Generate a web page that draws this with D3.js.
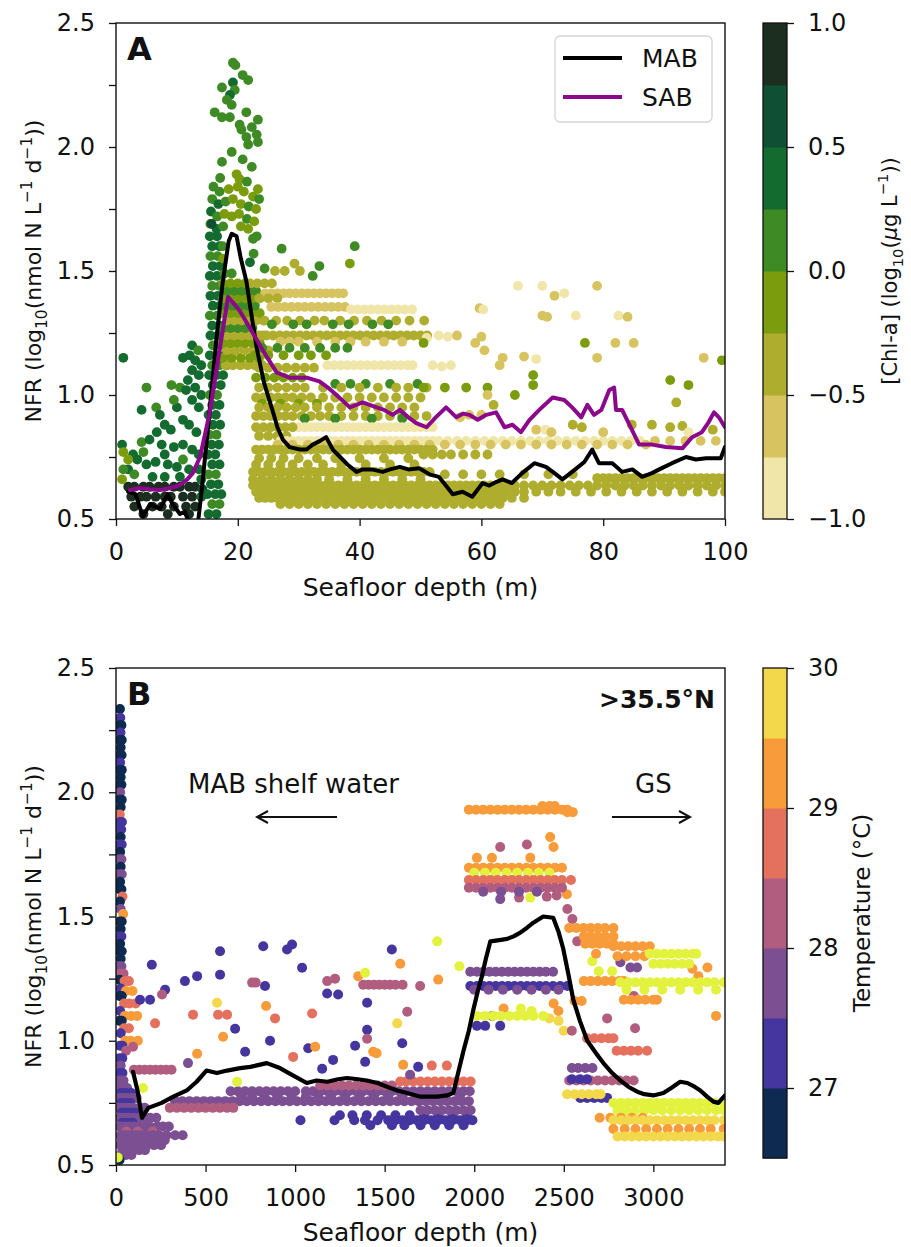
<!DOCTYPE html>
<html>
<head>
<meta charset="utf-8">
<script src="https://cdn.jsdelivr.net/npm/d3@7"></script>
<style>
  body { margin: 0; background: #fff; }
  svg text { font-family: "DejaVu Sans", sans-serif; fill: #111; }
</style>
</head>
<body>
<svg id="fig" width="911" height="1247"></svg>
<script>
// ---------- ticks ----------
const depthTicksA = [0, 20, 40, 60, 80, 100];
const depthTicksB = [0, 500, 1000, 1500, 2000, 2500, 3000];
const nfrTicks = [0.5, 0.75, 1.0, 1.25, 1.5, 1.75, 2.0, 2.25, 2.5];
const chlTicks = [-1, -0.5, 0, 0.5, 1];
const tempTicks = [27, 28, 29, 30];

// ---------- colour bins ----------
const chlBounds = [-1, -0.75, -0.5, -0.25, 0, 0.25, 0.5, 0.75, 1];
const chlColors = ['#f1e6a9', '#d7c461', '#afad2d', '#7b9c0c', '#3e8a24', '#136b30', '#0f4f34', '#1b2e1f'];
const tempBounds = [26.5, 27, 27.5, 28, 28.5, 29, 29.5, 30];
const tempColors = ['#0e2a50', '#45359f', '#7b4f92', '#b15d80', '#e4715e', '#f89b3a', '#f2d84a'];
const tempOverColor = '#e3f23f';

// ---------- panel A: NFR vs seafloor depth, coloured by log10 Chl-a ----------
// rows: [NFR, Chl, [depths...]]
const nearshoreRowsA = [
  [0.63, 0.85, [2, 3, 4.5, 5.5, 7, 8, 9.5, 10.5, 12, 13]],
  [0.59, 0.85, [2.5, 4, 5, 6.5, 8, 9, 11, 12.5]],
  [0.55, 0.85, [3, 6, 7.5, 9.5, 11.5, 13]],
  [0.52, 0.85, [4.5, 8.5, 12]]
];
// points: [depth, NFR, Chl]
const nearshoreA = [
  [1.2,1.15,0.35],[1,0.80,0.35],[1.2,0.77,-0.1],[2.8,0.76,0.35],[2,0.70,0.35],[3,0.68,0.1],[4.2,0.81,0.1],
  [5,1.03,0.1],[4.2,0.94,0.35],[6.6,0.95,0.1],[7.2,0.92,0.35],[9.1,1.04,0.1],[10.5,1.03,0.1],[11,1.15,0.35],
  [12.1,1.16,0.35],[13,1.14,0.35],[12.5,1.10,0.35],[13.6,1.08,0.35],[11.5,1.02,0.35],[12.5,0.98,0.35],
  [13.6,0.95,0.35],[10,0.95,0.35],[11,0.90,0.35],[12,0.88,0.35],[13.2,0.85,0.35],[8,0.88,0.35],[9,0.86,0.35],
  [6.7,0.85,0.35],[5.5,0.82,0.35],[7.5,0.80,0.35],[9.5,0.79,0.35],[11,0.80,0.35],[12.5,0.78,0.35],
  [13.6,0.76,0.35],[3.5,0.74,0.35],[5,0.72,0.35],[6.5,0.73,0.35],[8.5,0.72,0.35],[10,0.71,0.35],[12,0.70,0.35],
  [13.6,0.70,0.35],[4.5,0.77,0.1],[8,0.76,0.35],[11,0.74,0.1],[14,0.66,0.35],[14,0.59,0.35],[14.2,0.62,0.6],
  [12.5,1.20,0.35],[13.5,1.18,0.1],[11.8,1.06,0.35],[13,1.03,0.35],[14,1.00,0.35],[14,1.12,0.35],[9.5,0.98,0.1],
  [2,0.74,-0.1],[1.2,0.70,0.1],[6,0.67,0.35],[8,0.67,0.35],[10.5,0.67,0.35],[1,0.66,-0.1]
];
const spikeRowsA = [
  [0.52,0.35,[15.2,16.5]],[0.56,0.1,[15.8,17]],[0.60,0.35,[15,16.3,17.3]],[0.64,0.35,[15.6,16.8]],
  [0.68,0.1,[15.2,16.4]],[0.72,0.35,[15.8,17]],[0.76,0.35,[15.1,16.3]],[0.80,0.35,[15.7,16.9]],
  [0.84,0.1,[15.3,16.5]],[0.88,0.35,[15.9,17.1]],[0.92,0.35,[15.2,16.4]],[0.96,0.35,[15.8,17]],
  [1.00,0.1,[15.4,16.6]],[1.04,0.35,[15.9,17.2]],[1.08,0.35,[15.3,16.5,17.6]],[1.12,0.1,[15.8,17,18.2]],
  [1.16,0.35,[15.4,16.6,17.8]],[1.20,0.1,[15.9,17.1,18.3]],[1.24,0.35,[15.5,16.7]],[1.28,0.35,[15.8,17]],
  [1.32,0.1,[15.4,16.6]],[1.36,0.35,[15.9,17.1]],[1.40,0.35,[15.5,16.7]],[1.44,0.1,[15.8,17]],
  [1.48,0.35,[15.4,16.6]],[1.52,0.35,[15.9,17.1]],[1.56,0.1,[15.5,16.7]],[1.60,0.35,[15.8,17]],
  [1.64,0.35,[15.4,16.6]],
  [1.12,-0.4,[18,19.2,20.4,21.6,22.8,24]],[1.15,-0.1,[17.5,19,20.5,22,23.5]],
  [1.18,-0.4,[18.2,19.6,21,22.4,23.8,25]],[1.21,-0.1,[17.6,18.8,20,21.2,22.4,23.6]],
  [1.24,-0.4,[18.2,19.4,20.6,21.8,23,24.2]],[1.27,0.1,[17.6,18.8,20,21.2,22.4]],
  [1.30,-0.4,[18.2,19.4,20.6,21.8,23,24.2]],[1.33,-0.1,[17.6,18.8,20,21.2,22.4,23.6]],
  [1.36,0.1,[18,19.2,20.4,21.6,22.8]],[1.39,-0.1,[17.6,18.8,20,21.2,22.4,23.6]],
  [1.42,0.1,[18.2,19.4,20.6,21.8,23]],[1.45,-0.1,[17.6,18.8,20,21.2]],
  [1.49,0.1,[17.8,19]],[1.55,-0.1,[17.6]],[1.60,0.1,[17.5]]
];
const spikeA = [
  [19.2,2.34,0.1],[19.6,2.33,0.1],[20.8,2.29,0.1],[21.7,2.27,0.1],[17.4,2.24,0.1],[19.2,2.26,0.35],[19.5,2.23,0.1],
  [18.7,2.21,0.35],[18.2,2.19,0.1],[19,2.17,0.1],[16.2,2.14,0.1],[17.4,2.12,0.1],[18.7,2.12,0.1],[21.4,2.14,0.1],
  [23.3,2.11,0.1],[20.3,2.09,0.1],[20.6,2.07,0.1],[22.3,2.08,0.1],[23.1,2.05,0.1],[21.4,2.04,0.1],[23.3,2.02,0.1],
  [21.7,2.01,0.1],[19,1.98,0.1],[17.4,1.94,0.1],[20.8,1.95,0.1],[22.3,1.92,0.1],[17.1,1.875,0.1],[19.8,1.89,-0.1],
  [20.3,1.87,-0.1],[21.5,1.86,0.1],[23.3,1.83,-0.1],
  [16,1.84,0.1],[17,1.82,0.1],[18.5,1.83,-0.1],[20,1.84,-0.1],[21,1.82,-0.1],[22.5,1.80,-0.1],[23.5,1.79,0.1],
  [15.8,1.79,0.1],[16.8,1.77,0.35],[18,1.78,0.1],[19.2,1.79,-0.1],[20.5,1.77,-0.1],[21.8,1.76,0.1],[23,1.75,-0.1],
  [15.6,1.74,0.35],[16.6,1.72,0.1],[17.8,1.73,-0.1],[19,1.72,-0.1],[20.2,1.73,-0.1],[21.5,1.71,0.1],[22.7,1.70,-0.1],
  [15.5,1.69,0.1],[16.5,1.67,0.35],[17.6,1.68,0.1],[20.5,1.68,-0.1],[21.7,1.67,-0.1],[22.5,1.63,0.1],[23.1,1.64,0.1],
  [15.7,1.69,0.6],[22,1.535,0.35],[24.4,1.51,0.1],[26.1,1.50,-0.4],[27.7,1.50,-0.4],[29.3,1.53,-0.4],[30.2,1.50,-0.4],
  [32.3,1.48,0.1],[33.4,1.52,0.1],[38.4,1.53,-0.1],[39.2,1.60,0.1],[27.2,1.59,0.1],[22.6,1.57,0.1]
];
const shelfRowsA = [
  [1.45,-0.4,[22,23.2,24.4,25.6]],
  [1.41,-0.6,[24.5,25.5,26.5,27.5,28.5,29.5,30.5,31.5,32.5,33.5,34.5,35.5,36.5,37.3]],
  [1.39,-0.4,[23.5,25,26.5]],
  [1.355,-0.6,[25.5,26.6,27.7,28.8,29.9,31,32.1,33.2,34.3,35.4,36.5,37.6]],
  [1.345,-0.85,[38.6,39.7,40.8,41.9,43,44.1,45.2,46.3,47.4,48.6]],
  [1.30,-0.4,[22.6,24.4,26.3,28.1,30.2,32.6,34.2,36.8,39.1,41.2,43.6,46,48.2,50.6]],
  [1.285,0.1,[25.6,29.1,31.3,35.6,38.2,42.1,44.7]],
  [1.24,-0.4,[22.5,23.6,24.7,25.8,26.9,28,29.1,30.2,31.3,32.4,33.5,34.6,35.7,36.8,37.9,39,40.1,41.2,42.3,43.4,44.5,45.6,46.7,47.8,48.9,50,51.1]],
  [1.215,-0.6,[27,28.5,30,33,36,38.5,41,44,47]],
  [1.19,0.1,[24,26.5,28.5,31,33.5,36,38]],
  [1.16,-0.1,[22.8,25,27.5,30,32,34.5]],
  [1.12,-0.85,[34.7,35.8,36.9,38,39.1,40.2,41.3,42.4,43.5,44.6,45.7,46.8,47.9,48.7]],
  [1.11,-0.4,[23.5,25,26.5,28,29.5,31,32.5]],
  [1.07,-0.1,[23,24.5,26,27.5,29,30.5]],
  [1.045,0.1,[36,38.5,41,45,49.5]],
  [1.03,-0.4,[23.5,25,26.5,28,29.5,31,34,37,40,43,46,48,51]],
  [0.99,-0.4,[23,24.2,25.4,26.6,27.8,29,30.5,32,34,36,38,40,42,44,46,48,50]],
  [0.965,-0.1,[24,27,30,33]],
  [0.95,-0.4,[23.5,25,26.5,28,29.5,31,33,35,37,39,41,43,45,47,49]],
  [0.915,-0.4,[23,24.2,25.4,26.6,27.8,29,30.5,32,33.5,35,37,39,41,43,45,47,49,51]],
  [0.905,0.1,[31,36,42,47]],
  [0.87,-0.85,[30,31,32,33,34,35,36,37,38,39,40,41,42,43,44,45,46,47,48,49,50,51,52]],
  [0.87,-0.4,[23,24.2,25.4,26.6,27.8,29]],
  [0.835,-0.4,[23.5,25,26.5,28]],
  [0.815,-0.85,[27,28,29,30,31,32,33,34,35,36,37,38,39,40,41,42,43,44,45,46,47,48,49,50,51,52,53,54.5,56,57.5,59,60.5,62,63.5,65,66.5,68,69.5,71,72.5,74,75.5,77,78.5,80,81.5,83,84.5,86]],
  [0.80,-0.6,[26.5,29,31.5,34,36.5,39,41.5,44,46.5,49,51.5,54,56.5,59,61.5,64,66.5,69,71.5,74,76.5,79,81.5,84,87]],
  [0.815,-0.6,[88.5,91,93.5,96,98.5]],
  [0.78,-0.4,[23,24,25,26,27,28,29,30,31,32,33,34,35,36,37,38,39,40,41,42,43,44,45,46,47,48,49,50,51,52]],
  [0.76,-0.4,[50.5,52,53.5,55,57,59,61]],
  [0.745,-0.4,[23.5,25.5,27.5,30,33,36,40,44,48]],
  [0.72,-0.4,[23,25,27,29,31.5,34,37,41,45,49]],
  [0.69,-0.4,[22.5,23.5,24.5,25.5,26.5,27.5,28.5,29.5,30.5,31.5,32.5,33.5,34.5,35.5,36.5,37.5,38.5,39.5,40.5,41.5,42.5,43.5,44.5,45.5,46.5,47.5,48.5,49.5,50.5,51.5]],
  [0.68,-0.4,[54,57,60,63,67,71,75]],
  [0.665,-0.4,[79,80,81,82,83,84,85,86,87,88,89,90,91,92,93,94,95,96,97,98,99,100]],
  [0.66,-0.4,[22.5,24,25.5,27,28.5,30,31.5,33,35,38,41,44,47,50]],
  [0.635,-0.4,[22.5,23.5,24.5,25.5,26.5,27.5,28.5,29.5,30.5,31.5,32.5,33.5,34.5,35.5,36.5,37.5,38.5,39.5,40.5,41.5,42.5,43.5,44.5,45.5,46.5,47.5,48.5,49.5,50.5,51.5,52.5,53.5,54.5,55.5,56.5,57.5,58.5,59.5,60.5,61.5,62.5,63.5,64.5,65.5,67,68.5,70,71.5,73,74.5,76,77.5,79,80.5,82,83.5,85,86.5,88,89.5,91,92.5,94,95.5,97,98.5,100]],
  [0.61,-0.4,[23,24,25,26,27,28,29,30,31,32,33,34,35,36,37,38,39,40,41,42,43,44,45,46,47,48,49,50,51,52,53,54,55,56,57,58,59,60,61,62,63,64,65.5,67,69,71,73,75.5,78,80.5,83,85.5,88,90.5,93,95.5,98,100]],
  [0.585,-0.4,[23.5,24.5,25.5,26.5,27.5,28.5,29.5,30.5,31.5,32.5,33.5,34.5,35.5,36.5,37.5,38.5,39.5,40.5,41.5,42.5,43.5,44.5,45.5,46.5,47.5,48.5,49.5,50.5,51.5,52.5,53.5,54.5,55.5,56.5,57.5,58.5,59.5,60.5,61.5,62.5,63.5,65,67]],
  [0.56,-0.4,[27,28.5,30,31.5,33,34.5,36,37.5,39,40.5,42,43.5,45,46.5,48,49.5,51,52.5,54,55.5,57,58.5,60,61.5,63]]
];
const offshoreA = [
  [66,1.44,-0.85],[70,1.44,-0.85],[79,1.44,-0.6],[72,1.40,-0.6],[73.6,1.41,-0.85],[59.7,1.35,-0.6],[60.3,1.345,-0.85],
  [70,1.32,-0.6],[70.8,1.315,-0.6],[75.5,1.32,-0.85],[82.5,1.32,-0.85],[84,1.315,-0.6],
  [51,1.23,-0.85],[53,1.24,-0.85],[54.5,1.235,-0.85],[56,1.24,-0.6],[60,1.235,-0.6],[59,1.21,-0.6],
  [50.5,1.21,-0.1],[77,1.21,-0.1],[82,1.21,-0.6],[85,1.21,-0.6],[60.5,1.18,-0.6],
  [63.5,1.15,-0.6],[67,1.155,-0.6],[69,1.145,-0.85],[79,1.15,-0.6],[96.5,1.15,-0.6],[99.5,1.14,-0.1],
  [52,1.12,-0.85],[53.5,1.115,-0.85],[55,1.12,-0.85],[63,1.12,-0.6],
  [68.5,1.08,-0.1],[68.5,1.04,-0.1],[91,1.06,-0.1],[94,1.04,-0.1],
  [50.5,1.03,-0.1],[54,1.03,-0.1],[57.5,1.03,-0.1],[61,1.03,-0.1],
  [65.5,1.00,-0.1],[61,1.00,-0.6],[92,0.97,-0.4],[62,0.96,-0.4],
  [58,0.92,-0.6],[60,0.92,-0.6],[56.5,0.91,-0.6],
  [84.7,0.88,-0.4],[88,0.88,-0.4],[91,0.87,-0.4],[75,0.88,-0.4],[76.5,0.87,-0.4],[93,0.875,-0.4],[98,0.86,-0.4],
  [69,0.86,-0.6],[70.5,0.86,-0.85],[71.5,0.85,-0.6],[80,0.85,-0.6],[94,0.85,-0.85]
];
// running means
const mabLineA = [
  [2,0.61],[3.2,0.60],[4.4,0.51],[5.6,0.56],[6.4,0.55],[7.2,0.54],[8.5,0.60],[9.3,0.56],[10.5,0.52],[11.3,0.53],
  [12.2,0.47],[12.8,0.42],[13.3,0.45],[14,0.60],[15,0.84],[16.5,1.23],[17.5,1.45],[18.5,1.62],[19,1.65],[19.8,1.64],
  [20.5,1.55],[21.4,1.46],[22.2,1.33],[23.1,1.19],[24.3,1.05],[25.8,0.93],[26.5,0.87],[27.4,0.82],[28.5,0.79],
  [30.2,0.78],[31.3,0.78],[32.3,0.80],[33.5,0.815],[34.5,0.83],[35.6,0.78],[36.8,0.75],[38,0.72],[39.5,0.69],
  [40.5,0.70],[42,0.70],[43.8,0.69],[45,0.70],[46.6,0.71],[48,0.70],[49.8,0.705],[51.5,0.68],[53,0.67],[54,0.64],
  [55.3,0.60],[56.9,0.61],[58.5,0.59],[60.2,0.645],[61.3,0.635],[62.5,0.65],[63.5,0.66],[65,0.645],[66.7,0.685],
  [68.7,0.725],[70.6,0.71],[72,0.685],[73.3,0.66],[74.9,0.69],[76.9,0.73],[78.2,0.78],[79.3,0.725],[81.5,0.725],
  [83.1,0.69],[84.8,0.70],[86.4,0.67],[88,0.685],[89.2,0.70],[91.3,0.725],[93.6,0.75],[95.2,0.74],[96.9,0.745],
  [99.3,0.745],[100,0.79]
];
const sabLineA = [
  [2.3,0.617],[3.9,0.625],[5.5,0.62],[7.2,0.617],[9,0.625],[10.5,0.637],[11.7,0.66],[12.6,0.685],[13.8,0.75],
  [15.4,0.93],[17,1.18],[18.4,1.395],[19.3,1.37],[20.3,1.34],[22,1.27],[24.1,1.18],[26.4,1.09],[28.5,1.07],
  [31.3,1.07],[33.4,1.055],[34.8,1.03],[36.2,1.00],[38.4,0.95],[40.5,0.97],[42.8,0.95],[44,0.94],[45.4,0.92],
  [46.6,0.94],[48,0.91],[49.3,0.887],[51,0.87],[52.5,0.91],[54.2,0.95],[55.9,0.91],[57,0.925],[58,0.92],
  [59.4,0.90],[60.8,0.92],[62.4,0.93],[63.8,0.87],[65.1,0.88],[66.5,0.85],[67.9,0.90],[69.5,0.94],[71.7,0.99],
  [73.6,0.98],[74.9,0.95],[76.4,0.91],[77.4,0.96],[78.5,0.92],[79.7,0.94],[81,1.02],[81.8,1.03],[82.1,0.94],
  [83.1,0.94],[84.5,0.87],[85.9,0.80],[88,0.80],[90.3,0.79],[93,0.785],[94.6,0.83],[96.2,0.85],[97.3,0.89],
  [98.2,0.93],[99,0.91],[100,0.87]
];

// ---------- panel B: NFR vs seafloor depth north of 35.5°N, coloured by temperature ----------
// rows: [NFR, temperature, [depths...]]
const coastRowsB = [
  [2.335,26.8,[22]],[2.30,27.3,[24]],[2.27,26.8,[20,30]],[2.24,27.3,[25]],[2.21,26.8,[20,32]],[2.18,26.8,[26]],
  [2.15,26.8,[19,31]],[2.12,27.3,[23]],[2.09,26.8,[20,32]],[2.06,26.8,[26]],[2.03,26.8,[19,30]],[2.00,27.7,[23]],
  [1.97,26.8,[20,32]],[1.94,26.8,[26]],[1.91,28.7,[21]],[1.88,27.3,[23,33]],[1.85,27.3,[19,29]],[1.82,26.8,[26]],
  [1.79,27.3,[20,32]],[1.76,26.8,[23]],[1.73,27.7,[19,30]],[1.70,26.8,[26]],[1.67,27.7,[20,32]],[1.64,26.8,[23]],
  [1.61,26.8,[19,30]],[1.58,28.7,[36]],[1.56,26.8,[22]],[1.53,27.7,[26]],[1.51,29.2,[40]],[1.48,26.8,[20,32]],
  [1.45,26.8,[26]],[1.42,27.3,[19,30]],[1.39,26.8,[23]],[1.36,26.8,[20,32]],[1.33,26.8,[26]],[1.30,27.7,[19,30]],
  [1.27,28.2,[23,42]],[1.245,26.8,[20]],[1.24,28.7,[48,72]],[1.21,27.3,[26]],[1.20,29.2,[55,92]],[1.18,26.8,[20,32]],
  [1.15,28.7,[45,75,110]],[1.12,27.3,[23]],[1.10,29.2,[50,85,118]],[1.08,26.8,[20,32]],[1.05,28.7,[45,72]],
  [1.03,27.3,[26]],[1.00,29.2,[52,82,122]],[0.98,27.3,[22,36]],[0.96,28.2,[56]],[0.93,27.3,[20,35]],[0.90,27.7,[26]],
  [0.87,27.3,[20,36]],[0.84,27.7,[22,42]],[0.81,27.7,[20,36,62]],[0.79,27.3,[28,55,85]],
  [0.77,27.7,[20,42,64,90,115]],[0.75,27.3,[30,55,80]],[0.73,27.7,[20,45,70,95,130,160]],[0.71,27.3,[32,58,85,112]],
  [0.69,27.7,[20,45,72,100,130,160,190,225]],[0.67,27.3,[35,62,92]],
  [0.655,27.7,[20,46,72,100,130,160,190,230,262,295]],[0.635,28.2,[58,122,205]],
  [0.62,27.7,[25,52,80,110,140,172,205,240,282,330,372]],[0.60,27.7,[32,62,92,122,152,192,232,272]],
  [0.58,27.7,[25,52,82,112,142,172,212,252]],[0.56,27.7,[36,66,100,130,162]],[0.54,27.7,[25,56,86]],
  [0.52,26.8,[20]],[0.53,30.5,[10]]
];
const shelfRowsB = [
  [0.883,28.2,[100,130,160,190,220,250,280,310]],
  [0.757,27.7,[330,370,410,450,490,530,570,610,650,690,730,770,810,850,890,930,970,1010,1050,1090,1130,1170,1210,1250,1290,1330,1370,1410,1450,1490,1530,1570,1610,1650,1690,1730,1770,1810,1850,1890,1930,1970]],
  [0.775,27.7,[700,760,830,900,980,1060,1130,1200,1280,1360,1440,1520,1600,1680,1760,1840,1920]],
  [0.73,28.2,[300,340,380,420,460,500,540,580,620,655]],
  [0.797,27.7,[640,680,720,760,800,840,880,920,960,1000,1060,1100,1140,1180,1220,1260,1300,1340,1380,1420,1460,1500,1540,1580,1620,1660,1700,1740,1780,1820,1860,1900,1940,1975]],
  [0.70,27.3,[1250,1320,1400,1480,1560,1640,1720,1800,1880,1960]],
  [0.68,27.3,[1030,1220,1330,1390,1460,1520,1560,1600,1640,1680,1720,1760,1800,1840,1880,1920,1960,1990]],
  [0.66,27.3,[1420,1540,1610,1700,1780,1860,1940]],
  [0.836,28.7,[1587,1620,1660,1700,1740,1780,1820,1860,1900,1940,1980]],
  [0.82,28.2,[1140,1180,1220,1260,1300,1340,1380,1420,1460,1500,1540]],
  [0.72,27.7,[1700,1740,1780,1820,1860,1900,1940,1980]],
  [1.225,28.2,[1380,1410,1440,1470,1500,1530,1560,1600]]
];
const slopeRowsB = [
  [1.93,29.2,[1970,2010,2050,2090,2130,2170,2210,2250,2290,2330,2370,2410,2450,2490,2520]],
  [1.92,29.2,[2520,2550]],
  [1.945,29.2,[2380,2420,2450]],
  [1.696,29.2,[1970,2010,2050,2090,2130,2170,2210,2250,2290,2330,2370,2410,2450,2490]],
  [1.676,30.5,[2000,2060,2120,2180,2240,2300,2360,2420]],
  [1.647,28.7,[1970,2010,2050,2090,2130,2170,2210,2250,2290,2330,2370,2410,2450,2490,2540]],
  [1.616,28.2,[1970,2010,2050,2090,2130,2170,2210,2250,2290,2330,2370,2410,2450,2490]],
  [1.60,27.7,[2050,2150,2250,2350]],
  [1.278,27.7,[1978,2015,2050,2085,2120,2155,2190,2225,2260,2295,2330,2365,2400,2440]],
  [1.22,27.3,[1978,2015,2050,2085,2120,2155,2190,2225,2260,2295,2330,2365,2400,2440,2480,2520]],
  [1.205,27.7,[2000,2080,2160,2240,2320,2400,2470]],
  [1.10,30.5,[2015,2060,2105,2150,2195,2240,2285,2330,2385]],
  [1.454,29.2,[2530,2570,2610,2650,2690,2730,2777]],
  [1.42,29.2,[2612,2650,2690,2730,2777]],
  [1.39,29.2,[2620,2660,2700,2740,2777]],
  [1.38,29.2,[2777,2820,2860,2900,2940,2980]],
  [1.34,29.2,[2800,2850,2900,2950]],
  [1.35,30.5,[2980,3020,3060,3100,3140,3180,3220,3240]],
  [1.31,30.5,[3000,3040,3080,3120,3160,3200]],
  [1.24,29.2,[2612,2650,2690,2730,2770,2810,2835]],
  [1.235,30.5,[2816,2860,2900,2940,2980,3020,3060,3100,3140,3180,3220,3260,3300,3340,3393]],
  [1.205,30.5,[2850,2950,3050,3150,3250,3350]],
  [1.165,29.2,[2835,2875,2915,2955,3000,3020]],
  [1.01,28.7,[2630,2670,2710,2750,2777]],
  [0.96,28.7,[2795,2835,2875,2915,2965]],
  [0.89,27.7,[2545,2580,2620,2660]],
  [0.84,28.2,[2530,2570,2610,2650,2690,2730,2770,2810,2850,2890]],
  [0.845,27.3,[2545,2590,2630]],
  [0.77,27.3,[2592,2630,2670,2710,2742]],
  [0.785,29.7,[2518,2560,2600,2640,2680,2705]],
  [0.75,30.5,[2777,2820,2860,2900,2940,2980,3020,3060,3100,3140,3180,3220,3260,3300,3340,3393]],
  [0.72,30.5,[2800,2850,2900,2950,3000,3050,3100,3150,3200,3250,3300,3350,3393]],
  [0.69,29.2,[2700,2760,2820,2880,2940]],
  [0.68,29.7,[2777,2820,2860,2900,2940,2980,3020,3060,3100,3140,3180,3220,3260,3300,3340,3393]],
  [0.645,29.2,[2777,2840,2900,2960,3020,3080,3140,3200,3260,3320,3393]],
  [0.615,29.7,[2800,2840,2880,2920,2960,3000,3040,3080,3120,3160,3200,3240,3280,3320,3360,3393]]
];
// points: [depth, NFR, temperature]
const scatterB = [
  [200,1.306,27.3],[822,1.38,27.3],[955,1.367,27.3],[983,1.387,27.3],[581,1.36,27.3],[1039,1.294,27.3],[1540,1.367,27.3],
  [453,1.26,27.3],[385,1.24,27.3],[274,1.205,27.3],[190,1.165,27.3],[134,1.165,27.3],[832,1.22,27.3],[1179,1.19,27.3],
  [1240,1.186,27.3],[1402,1.153,27.3],[1402,1.044,27.3],[860,1.0,27.3],[665,1.048,27.3],[721,0.956,27.3],[1073,0.97,27.3],
  [1335,0.98,27.3],[1598,0.99,27.3],[402,0.91,27.7],[1151,0.887,27.3],[1212,0.923,27.3],[1391,0.915,27.3],[1642,0.863,27.7],
  [1687,0.895,27.3],[581,1.266,27.3],
  [760,1.234,28.2],[780,1.234,28.2],[1179,1.24,28.2],[1223,1.25,28.2],[1698,1.22,28.2],[1626,1.117,28.2],[257,1.186,28.2],
  [95,0.976,28.2],[1402,1.008,28.2],
  [564,1.153,29.7],[430,1.105,28.7],[570,1.105,28.7],[620,1.105,28.7],[218,1.07,28.7],[598,1.016,29.2],[838,1.14,29.2],
  [888,1.09,28.7],[1095,1.11,28.7],[1112,0.976,29.2],[1352,1.26,29.2],[1587,1.31,29.2],[1799,1.246,29.2],[1570,1.07,29.7],
  [989,0.935,28.7],[1436,0.956,29.2],[1455,0.95,29.2],[453,0.948,29.2],[1603,0.903,29.2],
  [676,0.835,30.5],[151,0.81,30.5],[1391,1.274,30.5],[1793,1.40,30.5],[1917,1.30,30.5],[2659,1.32,30.5],[2695,1.28,30.5],
  [2770,1.28,30.5],
  [2424,1.82,29.2],[2145,1.78,28.2],[2294,1.79,28.2],[2443,1.78,29.2],[2015,1.736,29.2],[2099,1.736,29.2],[2313,1.736,29.2],
  [2145,1.57,27.7],[2250,1.576,28.2],[2313,1.576,30.5],[2405,1.58,28.2],[2460,1.585,28.2],[2517,1.59,29.2],[2520,1.53,28.2],
  [2548,1.49,28.2],[2575,1.40,28.2],[2816,1.316,27.7],[2872,1.295,27.7],[2909,1.295,27.7],[3218,1.29,29.2],[3302,1.295,29.2],
  [3251,1.26,29.2],[2891,1.18,28.2],[3350,1.10,29.2],[2742,1.09,28.2],[2898,1.05,28.2],[2443,1.15,29.2],[2164,1.13,29.2],
  [2471,1.08,29.7],[2499,1.04,29.7],[2545,1.04,28.2],[2015,1.06,27.3],[2061,1.06,27.3],[2145,1.06,27.3],[2101,1.10,27.3],
  [1763,0.90,28.7],[1847,0.90,28.7],[2320,1.12,30.5],[2260,1.13,30.5],[2420,1.09,29.7],[2470,1.12,29.2],[2560,1.16,29.2],
  [2600,1.16,29.2],[2680,1.35,29.2]
];
const mabLineB = [
  [95,0.875],[120,0.80],[145,0.69],[180,0.73],[255,0.75],[320,0.775],[395,0.80],[450,0.835],[505,0.88],[563,0.87],
  [620,0.88],[693,0.89],[750,0.895],[842,0.91],[915,0.89],[990,0.86],[1065,0.83],[1120,0.84],[1180,0.835],[1240,0.845],
  [1290,0.85],[1350,0.845],[1400,0.84],[1460,0.83],[1513,0.815],[1570,0.80],[1625,0.79],[1700,0.775],[1790,0.775],
  [1850,0.78],[1883,0.79],[1910,0.87],[1940,0.96],[1970,1.04],[1995,1.125],[2020,1.20],[2043,1.26],[2065,1.33],
  [2090,1.40],[2140,1.405],[2184,1.41],[2220,1.42],[2257,1.435],[2295,1.455],[2330,1.475],[2385,1.50],[2441,1.495],
  [2470,1.44],[2497,1.37],[2525,1.27],[2553,1.165],[2590,1.08],[2631,1.00],[2680,0.95],[2721,0.91],[2770,0.87],
  [2816,0.84],[2860,0.815],[2910,0.795],[2950,0.785],[3000,0.78],[3056,0.79],[3100,0.81],[3150,0.835],[3190,0.83],
  [3230,0.815],[3262,0.80],[3300,0.775],[3335,0.755],[3363,0.75],[3400,0.78]
];

// ---------- helpers ----------
const svg = d3.select('#fig');
const fromRows = rows => rows.flatMap(([v, c, ds]) => ds.map(d => [d, v, c]));
const chlColor = d3.scaleThreshold().domain(chlBounds.slice(1, -1)).range(chlColors);
const tempScale = d3.scaleThreshold().domain(tempBounds.slice(1, -1)).range(tempColors);
const tempColor = t => (t >= 30 ? tempOverColor : tempScale(t));
const fmtTick = v => (Math.abs(v * 2 - Math.round(v * 2)) < 1e-6 ? d3.format('.1f')(v) : '');

function richText(g, parts, size) {
  const t = g.append('text').style('font-size', size + 'px');
  let shift = 0;
  parts.forEach(([txt, kind]) => {
    const target = kind === 'sub' ? size * 0.28 : kind === 'sup' ? -size * 0.42 : 0;
    const ts = t.append('tspan').attr('dy', target - shift).text(txt);
    if (kind === 'sub' || kind === 'sup') ts.style('font-size', (size * 0.7) + 'px');
    if (kind === 'it') ts.style('font-style', 'italic');
    shift = target;
  });
  return t;
}

const nfrLabelParts = [['NFR (log'], ['10', 'sub'], ['(nmol N L'], ['−1', 'sup'], [' d'], ['−1', 'sup'], ['))']];

function drawPanel(cfg) {
  const { x, y, top, bottom, clipId } = cfg;
  const g = svg.append('g');
  svg.append('clipPath').attr('id', clipId).append('rect')
    .attr('x', x.range()[0]).attr('y', top).attr('width', x.range()[1] - x.range()[0]).attr('height', bottom - top);

  const plot = g.append('g').attr('clip-path', `url(#${clipId})`);
  plot.selectAll('circle').data(cfg.points).join('circle')
    .attr('cx', d => x(d[0])).attr('cy', d => y(d[1])).attr('r', cfg.r)
    .attr('fill', d => cfg.color(d[2]));
  cfg.lines.forEach(l => {
    plot.append('path').datum(l.data)
      .attr('d', d3.line().x(d => x(d[0])).y(d => y(d[1])))
      .attr('fill', 'none').attr('stroke', l.color).attr('stroke-width', l.width)
      .attr('stroke-linejoin', 'round').attr('stroke-linecap', 'round');
  });

  const xa = g.append('g').attr('transform', `translate(0,${bottom})`)
    .call(d3.axisBottom(x).tickValues(cfg.xTicks).tickSize(7).tickPadding(17).tickFormat(d3.format('d')));
  const ya = g.append('g').attr('transform', `translate(${x.range()[0]},0)`)
    .call(d3.axisLeft(y).tickValues(nfrTicks).tickSize(7).tickPadding(14).tickFormat(fmtTick));
  [xa, ya].forEach(a => {
    a.select('.domain').remove();
    a.selectAll('line').attr('stroke', '#111').attr('stroke-width', 1.3);
    a.selectAll('text').style('font-size', '24px').attr('fill', '#111');
  });
  g.append('rect').attr('x', x.range()[0]).attr('y', top)
    .attr('width', x.range()[1] - x.range()[0]).attr('height', bottom - top)
    .attr('fill', 'none').attr('stroke', '#111').attr('stroke-width', 1.4);

  g.append('text').attr('x', (x.range()[0] + x.range()[1]) / 2).attr('y', cfg.xLabelY)
    .attr('text-anchor', 'middle').style('font-size', '25px').text('Seafloor depth (m)');
  richText(g, nfrLabelParts, 22).attr('text-anchor', 'middle')
    .attr('transform', `translate(41,${(top + bottom) / 2}) rotate(-90)`);

  g.append('text').attr('x', 127).attr('y', cfg.letterY).style('font-size', '32px').style('font-weight', 'bold').text(cfg.letter);

  // colour bar
  const cb = g.append('g');
  const cy = d3.scaleLinear().domain(cfg.cbDomain).range([cfg.cbBottom, top]);
  const bins = d3.pairs(cfg.cbBounds);
  cb.selectAll('rect.bin').data(bins).join('rect').attr('class', 'bin')
    .attr('x', 763).attr('width', 24)
    .attr('y', d => cy(d[1])).attr('height', d => cy(d[0]) - cy(d[1]) + 0.5)
    .attr('fill', (d, i) => cfg.cbColors[i]);
  cb.append('rect').attr('x', 763).attr('y', top).attr('width', 24).attr('height', cfg.cbBottom - top)
    .attr('fill', 'none').attr('stroke', '#111').attr('stroke-width', 1.3);
  const ca = cb.append('g').attr('transform', 'translate(787,0)')
    .call(d3.axisRight(cy).tickValues(cfg.cbTicks).tickSize(7).tickPadding(14).tickFormat(cfg.cbFormat));
  ca.select('.domain').remove();
  ca.selectAll('line').attr('stroke', '#111').attr('stroke-width', 1.3);
  ca.selectAll('text').style('font-size', '24px').attr('fill', '#111');
  richText(cb, cfg.cbLabel, cfg.cbLabelSize).attr('text-anchor', 'middle')
    .attr('transform', `translate(${cfg.cbLabelX},${(top + cfg.cbBottom) / 2}) rotate(-90)`);
  return g;
}

// ---------- panel A ----------
const xA = d3.scaleLinear().domain([0, 100]).range([116, 725]);
const yA = d3.scaleLinear().domain([0.5, 2.5]).range([519, 23]);
const pointsA = [
  ...fromRows(nearshoreRowsA), ...nearshoreA, ...fromRows(spikeRowsA), ...spikeA,
  ...fromRows(shelfRowsA), ...offshoreA
];
const gA = drawPanel({
  x: xA, y: yA, top: 23, bottom: 519, clipId: 'clipA', r: 4.9,
  points: pointsA, color: chlColor,
  lines: [{ data: mabLineA, color: '#000', width: 4 }, { data: sabLineA, color: '#8b078b', width: 4 }],
  xTicks: depthTicksA, xLabelY: 596, letter: 'A', letterY: 60,
  cbDomain: [-1, 1], cbBottom: 519, cbBounds: chlBounds, cbColors: chlColors, cbTicks: chlTicks,
  cbFormat: d3.format('.1f'),
  cbLabel: [['[Chl-a] (log'], ['10', 'sub'], ['('], ['μ', 'it'], ['g L'], ['−1', 'sup'], ['))']],
  cbLabelSize: 21, cbLabelX: 897
});
// legend
const leg = gA.append('g');
leg.append('rect').attr('x', 555).attr('y', 36).attr('width', 157).attr('height', 86).attr('rx', 5)
  .attr('fill', '#fff').attr('fill-opacity', 0.85).attr('stroke', '#d4d4d4').attr('stroke-width', 1.3);
[['MAB', '#000', 58], ['SAB', '#8b078b', 97]].forEach(([name, col, ly]) => {
  leg.append('line').attr('x1', 563).attr('x2', 622).attr('y1', ly).attr('y2', ly)
    .attr('stroke', col).attr('stroke-width', 4);
  leg.append('text').attr('x', 642).attr('y', ly + 9).style('font-size', '25px').text(name);
});

// ---------- panel B ----------
const xB = d3.scaleLinear().domain([0, 3400]).range([116, 725]);
const yB = d3.scaleLinear().domain([0.5, 2.5]).range([1165, 668]);
const pointsB = [...fromRows(coastRowsB), ...fromRows(shelfRowsB), ...scatterB, ...fromRows(slopeRowsB)];
const gB = drawPanel({
  x: xB, y: yB, top: 668, bottom: 1165, clipId: 'clipB', r: 5,
  points: pointsB, color: tempColor,
  lines: [{ data: mabLineB, color: '#000', width: 4.2 }],
  xTicks: depthTicksB, xLabelY: 1241, letter: 'B', letterY: 705,
  cbDomain: [26.5, 30], cbBottom: 1158, cbBounds: tempBounds, cbColors: tempColors, cbTicks: tempTicks,
  cbFormat: d3.format('d'),
  cbLabel: [['Temperature (°C)']], cbLabelSize: 23, cbLabelX: 870
});
gB.append('text').attr('x', 715).attr('y', 708).attr('text-anchor', 'end')
  .style('font-size', '25px').style('font-weight', 'bold').text('>35.5°N');
gB.append('text').attr('x', 188).attr('y', 793).style('font-size', '26px').text('MAB shelf water');
gB.append('text').attr('x', 635).attr('y', 793).style('font-size', '26px').text('GS');
function arrow(g, x1, x2, yy) {
  const dir = Math.sign(x2 - x1);
  g.append('line').attr('x1', x1).attr('x2', x2).attr('y1', yy).attr('y2', yy).attr('stroke', '#111').attr('stroke-width', 2);
  g.append('path').attr('d', `M${x2 - dir * 11},${yy - 6}L${x2},${yy}L${x2 - dir * 11},${yy + 6}`)
    .attr('fill', 'none').attr('stroke', '#111').attr('stroke-width', 2);
}
arrow(gB, 337, 257, 817);
arrow(gB, 612, 690, 817);
</script>
</body>
</html>
